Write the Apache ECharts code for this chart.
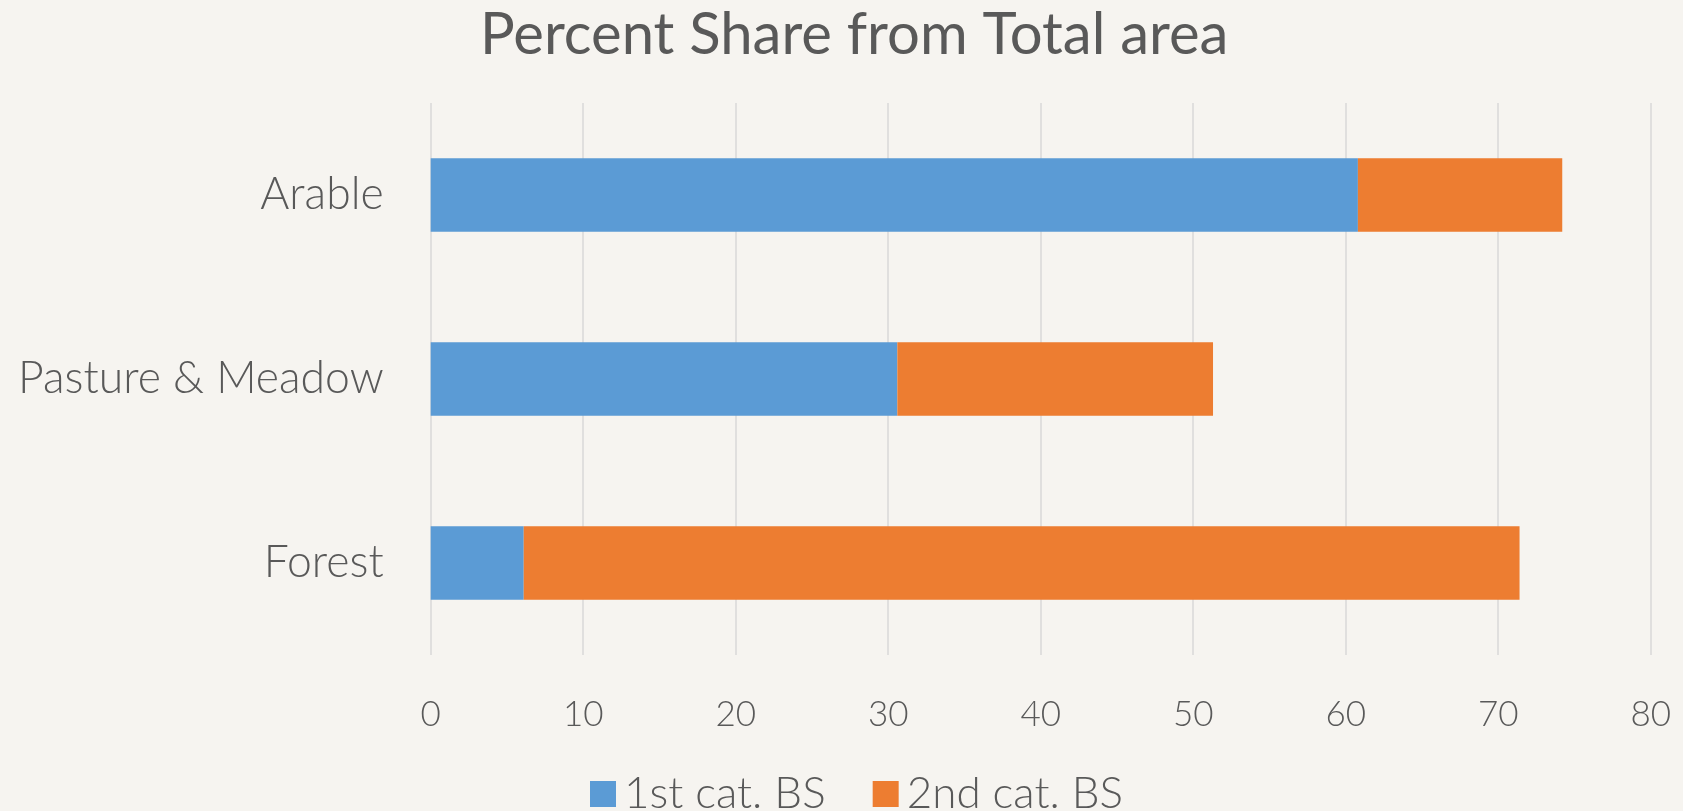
<!DOCTYPE html>
<html>
<head>
<meta charset="utf-8">
<script src="https://cdn.jsdelivr.net/npm/echarts@6/dist/echarts.min.js"></script>
<style>
html,body{margin:0;padding:0;background:#F6F4F0;width:1683px;height:811px;overflow:hidden;}
#chart{width:1683px;height:850px;}
</style>
</head>
<body>
<div id="chart"></div>
<script>
const titleText = 'Percent Share from Total area';
const categories = ['Arable', 'Pasture & Meadow', 'Forest'];
const seriesNames = ['1st cat. BS', '2nd cat. BS'];
const firstCat = [60.8, 30.6, 6.1];
const secondCat = [13.4, 20.7, 65.3];
const xTicks = {min: 0, max: 80, interval: 10};

const chart = echarts.init(document.getElementById('chart'));
const textColor = '#595959';
const fontFam = 'Lato, "Open Sans", sans-serif';
chart.setOption({
  backgroundColor: '#F6F4F0',
  animation: false,
  title: {
    text: titleText,
    left: 480,
    top: 6,
    padding: 0,
    textStyle: {fontFamily: fontFam, fontSize: 58, fontWeight: 400, color: textColor}
  },
  legend: {
    data: seriesNames,
    left: 590,
    top: 772,
    padding: 0,
    itemWidth: 26,
    itemHeight: 26,
    itemGap: 47,
    icon: 'rect',
    textStyle: {fontFamily: fontFam, fontSize: 44, fontWeight: 300, color: textColor, padding: [0, 0, 0, 3]}
  },
  grid: {left: 430.7, right: 32.3, top: 103, bottom: 195, containLabel: false},
  xAxis: {
    type: 'value',
    min: xTicks.min, max: xTicks.max, interval: xTicks.interval,
    axisLine: {show: false},
    axisTick: {show: false},
    splitLine: {show: true, lineStyle: {color: '#D9D9D9', width: 1.5}},
    axisLabel: {fontFamily: fontFam, fontSize: 35, fontWeight: 300, color: textColor, margin: 42}
  },
  yAxis: {
    type: 'category',
    data: categories,
    inverse: true,
    axisLine: {show: false},
    axisTick: {show: false},
    axisLabel: {fontFamily: fontFam, fontSize: 44.5, fontWeight: 300, color: textColor, margin: 47}
  },
  series: [
    {name: seriesNames[0], type: 'bar', stack: 'total', data: firstCat, barWidth: '40%',
     itemStyle: {color: '#5B9BD5'}},
    {name: seriesNames[1], type: 'bar', stack: 'total', data: secondCat, barWidth: '40%',
     itemStyle: {color: '#ED7D31'}}
  ]
});
</script>
</body>
</html>
